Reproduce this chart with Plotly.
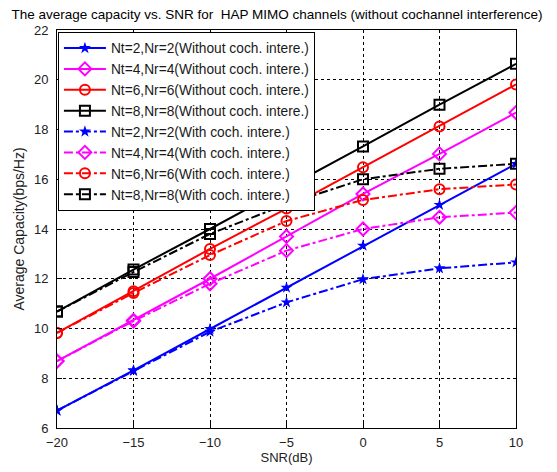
import plotly.graph_objects as go

snr = [-20, -15, -10, -5, 0, 5, 10]

c22_wo = [6.7, 8.32, 9.98, 11.64, 13.33, 14.97, 16.62]
c44_wo = [8.69, 10.33, 12.0, 13.7, 15.41, 17.02, 18.68]
c66_wo = [9.82, 11.5, 13.2, 14.82, 16.48, 18.12, 19.81]
c88_wo = [10.68, 12.37, 14.0, 15.65, 17.32, 19.0, 20.64]
c22_w = [6.7, 8.3, 9.87, 11.05, 11.98, 12.42, 12.66]
c44_w = [8.69, 10.3, 11.8, 13.13, 14.0, 14.47, 14.66]
c66_w = [9.82, 11.43, 12.95, 14.32, 15.17, 15.6, 15.79]
c88_w = [10.68, 12.27, 13.8, 15.0, 16.0, 16.42, 16.62]

names = [
    "Nt=2,Nr=2(Without coch. intere.)",
    "Nt=4,Nr=4(Without coch. intere.)",
    "Nt=6,Nr=6(Without coch. intere.)",
    "Nt=8,Nr=8(Without coch. intere.)",
    "Nt=2,Nr=2(With coch. intere.)",
    "Nt=4,Nr=4(With coch. intere.)",
    "Nt=6,Nr=6(With coch. intere.)",
    "Nt=8,Nr=8(With coch. intere.)",
]
series = [c22_wo, c44_wo, c66_wo, c88_wo, c22_w, c44_w, c66_w, c88_w]
colors = ["#0000FF", "#FF00FF", "#FF0000", "#000000"] * 2
symbols = ["star", "diamond-open", "circle-open", "square-open"] * 2
dashes = ["solid"] * 4 + ["dashdot"] * 4

fig = go.Figure()
for nm, ys, col, sym, dsh in zip(names, series, colors, symbols, dashes):
    fig.add_trace(go.Scatter(
        x=snr, y=ys, name=nm, mode="lines+markers",
        line=dict(color=col, width=2, dash=dsh),
        marker=dict(symbol=sym, size=10 if sym != "star" else 9, color=col,
                    line=dict(color=col, width=2 if sym != "star" else 0)),
    ))

axis_common = dict(
    showline=True, linecolor="black", linewidth=1, mirror=True,
    showgrid=True, gridcolor="black", griddash="dot", gridwidth=1,
    ticks="inside", ticklen=5, tickcolor="black", zeroline=False,
    tickfont=dict(family="Arial", size=13, color="#222222"),
    automargin=False,
)

# page body adds an 8px offset, so the figure is sized/margined to compensate
W, H = 549, 464
fig.update_layout(
    width=W, height=H,
    margin=dict(l=49, r=41, t=22, b=44),
    paper_bgcolor="white", plot_bgcolor="white",
    title=dict(text="The average capacity vs. SNR for  HAP MIMO channels (without cochannel interference)",
               x=0.49, xanchor="center", y=1 - 6.5 / H, yanchor="middle",
               font=dict(family="Arial", size=13.5, color="black")),
    xaxis=dict(range=[-20, 10], tickvals=[-20, -15, -10, -5, 0, 5, 10],
               ticklabelstandoff=2,
               title=dict(text="SNR(dB)", font=dict(family="Arial", size=13, color="#222222"), standoff=1),
               **axis_common),
    yaxis=dict(range=[6, 22], tickvals=[6, 8, 10, 12, 14, 16, 18, 20, 22],
               ticklabelstandoff=5,
               title=dict(text="Average Capacity(bps/Hz)", font=dict(family="Arial", size=14, color="#222222"), standoff=6),
               **axis_common),
    legend=dict(x=0.002, y=0.996, xanchor="left", yanchor="top",
                bgcolor="white", bordercolor="black", borderwidth=1,
                font=dict(family="Arial", size=13.75, color="#1a1a1a"),
                tracegroupgap=0, itemwidth=42),
    showlegend=True,
)

fig.write_html("out.html")
